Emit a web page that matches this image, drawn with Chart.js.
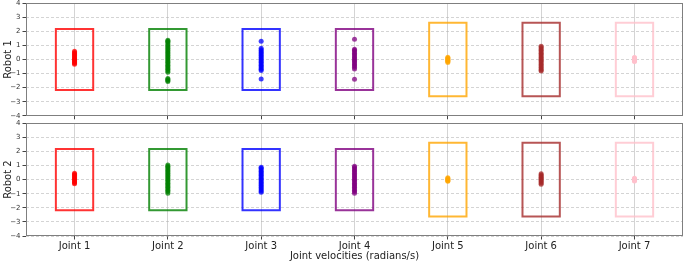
<!DOCTYPE html>
<html><head><meta charset="utf-8">
<script src="https://cdn.jsdelivr.net/npm/chart.js@4/dist/chart.umd.min.js"></script>
<style>
html,body{margin:0;padding:0;background:#fff;}
#wrap{position:relative;width:685px;height:262px;overflow:hidden;}
.c{position:absolute;left:0;width:685px;}
</style></head><body>
<div id="wrap">
<div class="c" style="top:-3px;height:125px"><canvas id="c1"></canvas></div>
<div class="c" style="top:117px;height:145px"><canvas id="c2"></canvas></div>
</div>
<script>
// ---- data ----
const joints = ['Joint 1','Joint 2','Joint 3','Joint 4','Joint 5','Joint 6','Joint 7'];
const velocityLimits = [2.175, 2.175, 2.175, 2.175, 2.61, 2.61, 2.61];
const jointColors = ['red','green','blue','purple','orange','brown','pink'];
const yTickValues = [-4,-3,-2,-1,0,1,2,3,4];
const robotLabels = ['Robot 1','Robot 2'];
const xAxisTitle = 'Joint velocities (radians/s)';

const robot1Velocities = [
  [0.58,0.5,0.42,0.35,0.28,0.2,0.12,0.05,0,-0.05,-0.12,-0.2,-0.27,-0.33],
  [1.36,1.3,1.22,1.1,1.0,0.9,0.8,0.7,0.6,0.5,0.4,0.3,0.2,0.1,0,-0.1,-0.2,-0.3,-0.4,-0.5,-0.6,-0.7,-0.8,-0.9,-1.35,-1.42,-1.5,-1.56],
  [1.29,0.8,0.7,0.6,0.5,0.4,0.3,0.2,0.1,0,-0.1,-0.2,-0.3,-0.4,-0.5,-0.6,-0.7,-0.79,-1.39],
  [1.43,0.73,0.65,0.55,0.45,0.35,0.25,0.15,0.05,-0.05,-0.15,-0.25,-0.35,-0.45,-0.55,-0.68,-1.41],
  [0.16,0.1,0.05,0,-0.05,-0.1,-0.15,-0.22],
  [0.94,0.85,0.75,0.65,0.55,0.45,0.35,0.25,0.15,0.05,-0.05,-0.15,-0.25,-0.35,-0.45,-0.55,-0.65,-0.75,-0.82],
  [0.15,0.1,0.05,0,-0.05,-0.1,-0.15]
];
const robot2Velocities = [
  [0.45,0.38,0.3,0.22,0.15,0.08,0,-0.08,-0.15,-0.22,-0.3],
  [1.04,0.95,0.85,0.75,0.65,0.55,0.45,0.35,0.25,0.15,0.05,-0.05,-0.15,-0.25,-0.35,-0.45,-0.55,-0.65,-0.75,-0.85,-0.96],
  [0.87,0.8,0.7,0.6,0.5,0.4,0.3,0.2,0.1,0,-0.1,-0.2,-0.3,-0.4,-0.5,-0.6,-0.7,-0.8,-0.89],
  [0.94,0.85,0.75,0.65,0.55,0.45,0.35,0.25,0.15,0.05,-0.05,-0.15,-0.25,-0.35,-0.45,-0.55,-0.65,-0.75,-0.85,-0.96],
  [0.13,0.08,0.03,-0.03,-0.08,-0.12],
  [0.41,0.33,0.25,0.17,0.09,0,-0.08,-0.16,-0.24,-0.33],
  [0.1,0.05,0,-0.05,-0.1]
];

// ---- styling ----
const RGB = {red:[255,0,0],green:[0,128,0],blue:[0,0,255],purple:[128,0,128],orange:[255,165,0],brown:[165,42,42],pink:[255,192,203]};
const rgba = (n,a)=>`rgba(${RGB[n].join(',')},${a})`;
const FONT = 'DejaVu Sans';
const BOX_HALF = 0.2;

const framePlugin = {
  id:'frame',
  afterDatasetsDraw(chart){
    const {ctx, chartArea:a} = chart;
    ctx.save();
    ctx.strokeStyle = '#7f7f7f';
    ctx.lineWidth = 1;
    ctx.strokeRect(Math.round(a.left)+0.5, Math.round(a.top)+0.5, Math.round(a.right-a.left)-1, Math.round(a.bottom-a.top)-1);
    ctx.restore();
  }
};

function makeChart(id, velocities, robotLabel, isBottom){
  const datasets = [];
  joints.forEach((j,i)=>{
    const lim = velocityLimits[i];
    datasets.push({
      type:'scatter', showLine:true,
      data:[{x:i-BOX_HALF,y:-lim},{x:i+BOX_HALF,y:-lim},{x:i+BOX_HALF,y:lim},{x:i-BOX_HALF,y:lim},{x:i-BOX_HALF,y:-lim},{x:i+BOX_HALF,y:-lim}],
      borderColor: rgba(jointColors[i],0.8), borderWidth:2, pointRadius:0, pointHoverRadius:0,
      fill:false, tension:0, borderJoinStyle:'miter'
    });
    datasets.push({
      type:'scatter',
      data: velocities[i].map(v=>({x:i,y:v})),
      backgroundColor: rgba(jointColors[i], jointColors[i]==='pink' ? 0.95 : 0.75), borderWidth:0, pointRadius:2.5
    });
  });
  return new Chart(document.getElementById(id), {
    type:'scatter',
    data:{datasets},
    plugins:[framePlugin],
    options:{
      responsive:true, maintainAspectRatio:false, animation:false, devicePixelRatio:1,
      layout:{autoPadding:false, padding:{top:2.7, right:2, left:0, bottom:0}},
      plugins:{legend:{display:false}, tooltip:{enabled:false}},
      scales:{
        x:{
          type:'linear', min:-0.52, max:6.52,
          afterBuildTicks(s){ s.ticks = joints.map((_,i)=>({value:i})); },
          afterFit(s){ s.height = isBottom ? 26 : 4; },
          ticks:{
            display:isBottom, autoSkip:false, maxRotation:0, padding:1,
            color:'#222', font:{family:FONT, size:10},
            callback:(v)=>joints[v]
          },
          grid:{color:'rgba(176,176,176,0.55)', lineWidth:1, tickLength:3.5, tickColor:'#444', drawTicks:true},
          border:{display:false},
          title:{display:isBottom, text:xAxisTitle, color:'#222', font:{family:FONT,size:10}, padding:{top:0,bottom:0}}
        },
        y:{
          min:-4, max:4,
          afterBuildTicks(s){ s.ticks = yTickValues.map(v=>({value:v})); },
          afterFit(s){ s.width = 26; },
          ticks:{
            color:'#333', font:{family:FONT, size:7}, padding:2,
            callback:(v)=> v<0 ? '\u2212'+Math.abs(v) : String(v)
          },
          grid:{color:'rgba(176,176,176,0.55)', lineWidth:1, tickLength:3.5, tickColor:'#444', tickBorderDash:[]},
          border:{display:false, dash:[3,2]},
          title:{display:true, text:robotLabel, color:'#222', font:{family:FONT,size:10}, padding:{top:2,bottom:0}}
        }
      }
    }
  });
}
makeChart('c1', robot1Velocities, robotLabels[0], false);
makeChart('c2', robot2Velocities, robotLabels[1], true);
</script>
</body></html>
